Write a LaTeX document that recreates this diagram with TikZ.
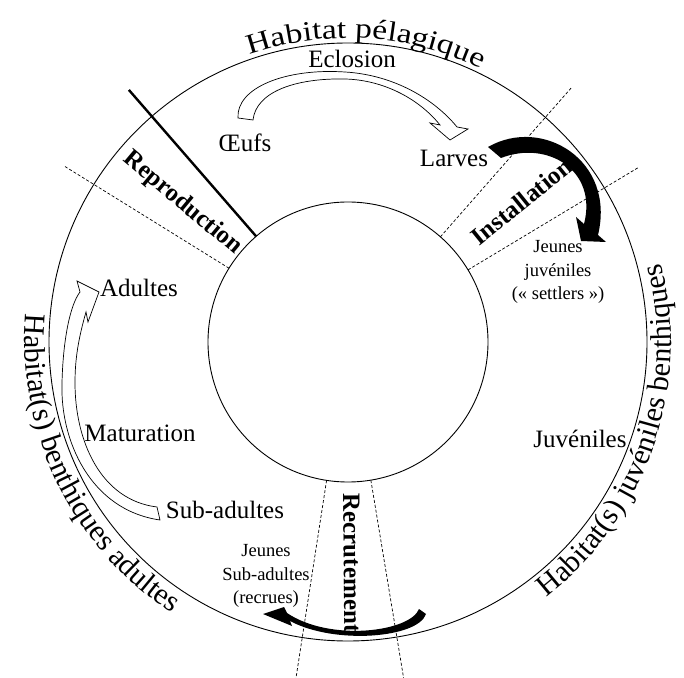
\documentclass[tikz,border=0pt]{standalone}
\usepackage{fontspec}
\setmainfont{Liberation Serif}
\newfontfamily\ringfont[FakeStretch=1.2]{Liberation Serif}
\usetikzlibrary{calc, decorations.text}

\begin{document}
\begin{tikzpicture}[x=1pt, y=1pt,% styles used in the cycle
    lbl/.style    = {font=\fontsize{25}{30}\selectfont, inner sep=0pt},
    slbl/.style   = {font=\fontsize{18.5}{23.5}\selectfont, align=center, inner sep=0pt},
    phase/.style  = {font=\fontsize{25}{30}\selectfont\bfseries, inner sep=0pt},
    sector/.style = {line width=0.7pt, dash pattern=on 3pt off 2pt},
    hollow/.style = {draw, fill=white, line width=0.7pt},
    blackarrow/.style = {fill=black},
    curved/.style = {decorate, decoration={text along path, text align=center, text={#1}}}
                   ]
    \useasboundingbox (0,0) rectangle (684,677);
    \coordinate (O) at (348,335);

    % rings
    \draw[line width=0.9pt] (O) circle (299);
    \draw[line width=0.9pt] (O) circle (140);

    % habitats
    \path[curved={|\ringfont\fontsize{28}{34}\selectfont|Habitat pélagique}]
        ($(O)+(116.5:304)$) arc[start angle=116.5, end angle=56.5, radius=304];
    \path[curved={|\fontsize{30}{36}\selectfont|Habitat(s) benthiques adultes}]
        ($(O)+(161:323)$) arc[start angle=161, end angle=251, radius=323];
    \path[curved={|\fontsize{30}{36}\selectfont|Habitat(s) juvéniles benthiques}]
        ($(O)+(-64:323)$) arc[start angle=-64, end angle=26, radius=323];

    % sectors
    \draw[line width=2.4pt] ($(O)+(131:140)$) -- ($(O)+(131:334)$);
    \draw[sector] ($(O)+(148.2:140)$) -- ($(O)+(148.2:335)$);
    \draw[sector] ($(O)+(48.7:140)$) -- ($(O)+(48.7:338)$);
    \draw[sector] ($(O)+(31:140)$) -- ($(O)+(31:338)$);
    \draw[sector] ($(O)+(-98.8:140)$) -- ($(O)+(-98.8:350)$);
    \draw[sector] ($(O)+(-80.6:140)$) -- ($(O)+(-80.6:350)$);

    % arrows
    \draw[hollow] (238,559) .. controls (236,589) and (285,609) .. (345,605)
        .. controls (395,602) and (435,577) .. (457,550) -- (468,548) -- (450,537) -- (430,554) -- (440,552)
        .. controls (420,577) and (385,597) .. (345,598) .. controls (295,599) and (256,585) .. (253,557) -- cycle;
    \fill[blackarrow] (488,530) .. controls (542,561) and (616,517) .. (598,442) -- (606,435) -- (581,436)
        -- (576,460) -- (584,453) .. controls (598,507) and (547,537) .. (501,519) -- cycle;
    \draw[hollow] (160,157) .. controls (90,167) and (60,237) .. (62,294) .. controls (63,337) and (70,372) .. (80,385)
        -- (77,396) -- (99,385) -- (88,355) -- (86,365)
        .. controls (78,337) and (75,317) .. (75,294) .. controls (75,237) and (100,177) .. (157,170) -- cycle;
    \fill[blackarrow] (419,68) .. controls (410,45) and (330,35) .. (287,64) -- (284,70) -- (263,63) -- (292,51)
        -- (290,56) .. controls (335,32) and (418,39) .. (426,63) -- cycle;

    % phases
    \node[phase, rotate=-40]   (repro)   at ($(O)+(140:216)$) {Reproduction};
    \node[phase, rotate=39]    (install) at ($(O)+(39:223)$)  {Installation};
    \node[phase, rotate=-89.5] (recrut)  at ($(O)+(-89:221)$) {Recrutement};

    % stages
    \node[lbl, anchor=base] (eclo)    at (352,609) {Eclosion};
    \node[lbl, anchor=base] (oeufs)   at (245,525) {Œufs};
    \node[lbl, anchor=base] (larves)  at (454,510) {Larves};
    \node[lbl, anchor=base] (adultes) at (139,380) {Adultes};
    \node[lbl, anchor=base] (matur)   at (140,235) {Maturation};
    \node[lbl, anchor=base] (subad)   at (225,159) {Sub-adultes};
    \node[lbl, anchor=base] (juv)     at (580,229) {Juvéniles};
    \node[slbl] (settlers) at (558,405) {Jeunes\\juvéniles\\(« settlers »)};
    \node[slbl] (recrues)  at (266,101) {Jeunes\\Sub-adultes\\(recrues)};
\end{tikzpicture}
\end{document}
